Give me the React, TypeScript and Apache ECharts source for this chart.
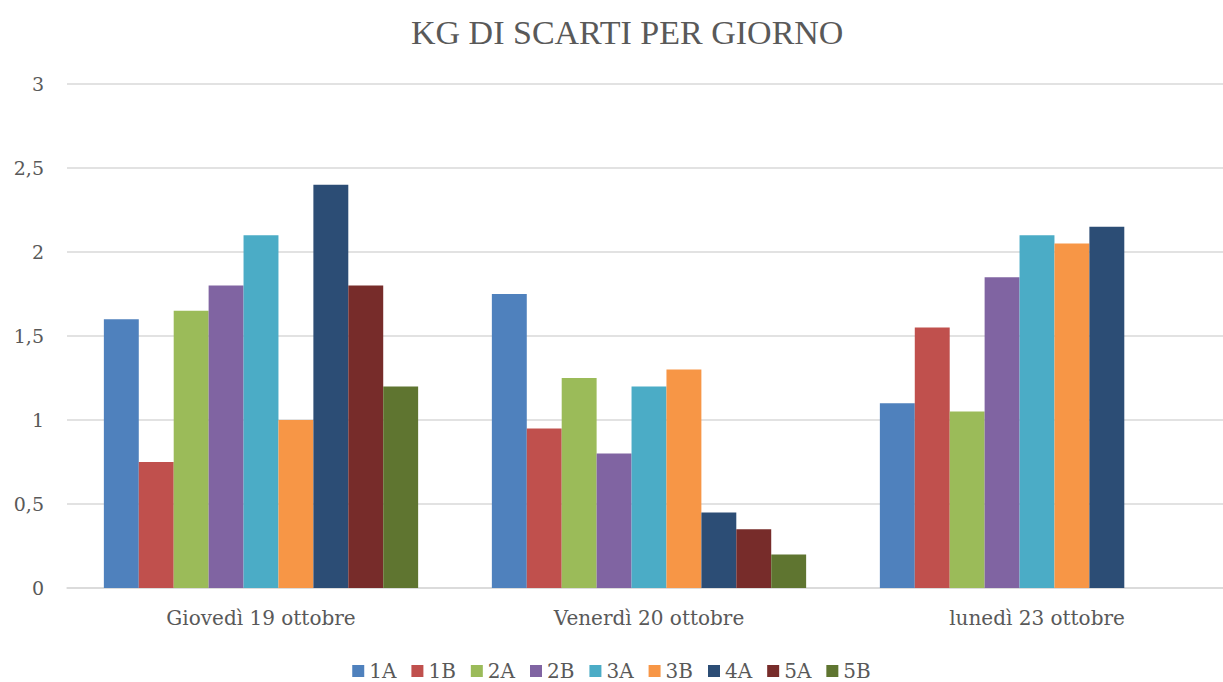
import React, { useEffect, useRef } from "react";
import * as echarts from "echarts";

const categories = ["Giovedì 19 ottobre", "Venerdì 20 ottobre", "lunedì 23 ottobre"];
const seriesNames = ["1A", "1B", "2A", "2B", "3A", "3B", "4A", "5A", "5B"];
const colors = ["#4F81BD", "#C0504D", "#9BBB59", "#8064A2", "#4BACC6", "#F79646", "#2C4D75", "#772C2A", "#5F7530"];
const v1A = [1.6, 1.75, 1.1];
const v1B = [0.75, 0.95, 1.55];
const v2A = [1.65, 1.25, 1.05];
const v2B = [1.8, 0.8, 1.85];
const v3A = [2.1, 1.2, 2.1];
const v3B = [1.0, 1.3, 2.05];
const v4A = [2.4, 0.45, 2.15];
const v5A = [1.8, 0.35, null];
const v5B = [1.2, 0.2, null];
const seriesValues = [v1A, v1B, v2A, v2B, v3A, v3B, v4A, v5A, v5B];

const FONT = "DejaVu Serif";
const TEXT = "#595959";

export default function App() {
  const ref = useRef<HTMLDivElement>(null);
  useEffect(() => {
    if (!ref.current) return;
    const chart = echarts.init(ref.current, null, { renderer: "svg" });
    chart.setOption({
      animation: false,
      backgroundColor: "#ffffff",
      title: {
        text: "KG DI SCARTI PER GIORNO",
        left: 406,
        top: 10,
        textStyle: { fontFamily: "Liberation Serif", fontSize: 34, fontWeight: "normal", color: TEXT },
      },
      legend: {
        bottom: 1,
        padding: 0,
        left: "center",
        itemWidth: 12,
        itemHeight: 12,
        itemGap: 15,
        icon: "rect",
        data: seriesNames,
        textStyle: { fontFamily: FONT, fontSize: 20, color: TEXT },
      },
      grid: { left: 67, top: 84, width: 1164, bottom: 94, containLabel: false, outerBoundsMode: "none" },
      xAxis: {
        type: "category",
        data: categories,
        axisLine: { lineStyle: { color: "#D9D9D9", width: 1.5 } },
        axisTick: { show: false },
        axisLabel: { fontFamily: FONT, fontSize: 20, color: TEXT, margin: 20 },
      },
      yAxis: {
        type: "value",
        min: 0,
        max: 3,
        interval: 0.5,
        axisLine: { show: false },
        axisTick: { show: false },
        splitLine: { lineStyle: { color: "#D9D9D9", width: 1.5 } },
        axisLabel: {
          fontFamily: FONT,
          fontSize: 19,
          color: TEXT,
          margin: 23,
          formatter: (v: number) => String(v).replace(".", ","),
        },
      },
      series: seriesNames.map((name, i) => ({
        name,
        type: "bar",
        data: seriesValues[i],
        barGap: "0%",
        barCategoryGap: "19%",
        itemStyle: { color: colors[i] },
      })),
    });
    return () => chart.dispose();
  }, []);
  return (
    <div
      ref={ref}
      style={{ position: "fixed", left: 0, top: 0, width: 1223, height: 682, overflow: "hidden" }}
    />
  );
}
